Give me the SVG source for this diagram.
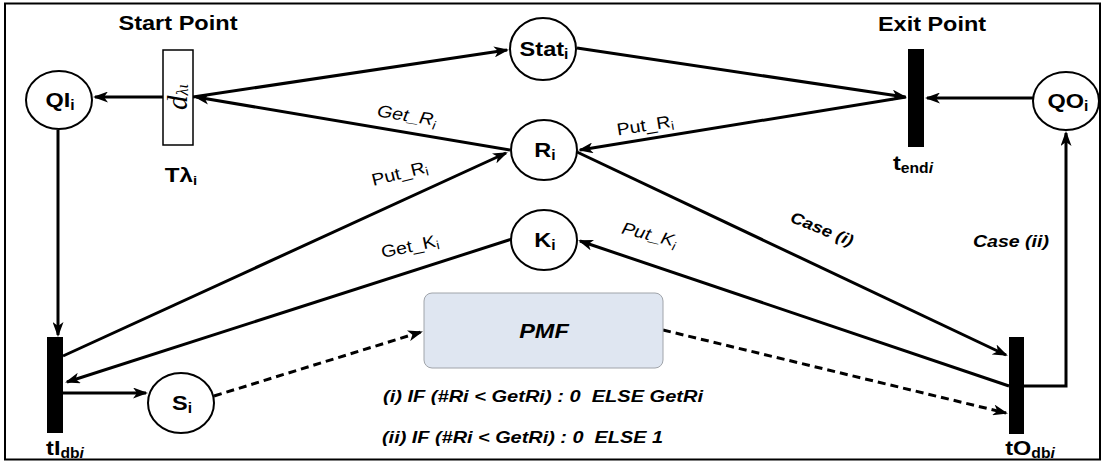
<svg xmlns="http://www.w3.org/2000/svg" width="1106" height="464" viewBox="0 0 1106 464">
<style>
.edge{fill:none;stroke:#000;stroke-width:3}
.dash{fill:none;stroke:#000;stroke-width:3;stroke-dasharray:8 5}
.place{fill:#fff;stroke:#000;stroke-width:2}
.bar{fill:#000}
.nl{font-family:"Liberation Sans",Arial,sans-serif;font-weight:bold;font-size:21px;text-anchor:middle;fill:#000}
.lab{font-family:"Liberation Sans",Arial,sans-serif;font-size:17px;text-anchor:middle;fill:#000}
.it{font-style:italic}
.bi{font-family:"Liberation Sans",Arial,sans-serif;font-weight:bold;font-style:italic;fill:#000}
.ttl{font-family:"Liberation Sans",Arial,sans-serif;font-weight:bold;font-size:20px;text-anchor:middle;fill:#000}
</style>
<defs>
<marker id="ah" markerWidth="15" markerHeight="11" refX="13" refY="5.5" orient="auto" markerUnits="userSpaceOnUse">
<path d="M0,0 L15,5.5 L0,11 L4,5.5 z" fill="#000"/>
</marker>
</defs>
<rect x="5" y="3.5" width="1095" height="456" fill="#fff" stroke="#000" stroke-width="2"/>

<g id="connectors">
<line class="edge" x1="163" y1="97" x2="95" y2="97" marker-end="url(#ah)"/>
<line class="edge" x1="510" y1="150" x2="196" y2="97" marker-end="url(#ah)"/>
<line class="edge" x1="193" y1="97" x2="507" y2="50" marker-end="url(#ah)"/>
<line class="edge" x1="577" y1="48" x2="905" y2="97" marker-end="url(#ah)"/>
<line class="edge" x1="906" y1="97" x2="580" y2="150" marker-end="url(#ah)"/>
<line class="edge" x1="1033" y1="98" x2="927" y2="98" marker-end="url(#ah)"/>
<line class="edge" x1="58" y1="130" x2="58" y2="335" marker-end="url(#ah)"/>
<line class="edge" x1="63" y1="356" x2="506" y2="153" marker-end="url(#ah)"/>
<line class="edge" x1="512" y1="239" x2="67" y2="382" marker-end="url(#ah)"/>
<line class="edge" x1="63" y1="393" x2="146" y2="393" marker-end="url(#ah)"/>
<line class="edge" x1="577" y1="152" x2="1006" y2="355" marker-end="url(#ah)"/>
<line class="edge" x1="1009" y1="386" x2="580" y2="241" marker-end="url(#ah)"/>
<polyline class="edge" points="1024,386 1066,386 1066,133" marker-end="url(#ah)"/>
<line class="dash" x1="214" y1="396" x2="421" y2="332" marker-end="url(#ah)"/>
<line class="dash" x1="663" y1="330" x2="1006" y2="413" marker-end="url(#ah)"/>

<text class="lab it" transform="translate(406,121) rotate(9) scale(1.15,1)">Get_R<tspan font-size="12" dy="4">i</tspan></text>
<text class="lab" transform="translate(646,131) rotate(-9) scale(1.15,1)">Put_R<tspan font-size="12" dy="3">i</tspan></text>
<text class="lab" transform="translate(401,179) rotate(-14) scale(1.15,1)">Put_R<tspan font-size="12" dy="3">i</tspan></text>
<text class="lab" transform="translate(411,252) rotate(-12) scale(1.15,1)">Get_K<tspan font-size="12" dy="3">i</tspan></text>
<text class="lab it" transform="translate(648,240) rotate(14) scale(1.15,1)">Put_K<tspan font-size="12" dy="4">i</tspan></text>
<text class="bi" font-size="16" text-anchor="middle" transform="translate(820,234) rotate(22) scale(1.15,1)">Case (i)</text>
<text class="bi" font-size="17" text-anchor="middle" transform="translate(1011,247) scale(1.15,1)">Case (ii)</text>
</g>

<g id="title-start"><text class="ttl" x="178" y="30" textLength="119" lengthAdjust="spacingAndGlyphs">Start Point</text></g>
<g id="title-exit"><text class="ttl" x="932" y="31" textLength="108" lengthAdjust="spacingAndGlyphs">Exit Point</text></g>

<g id="node-QI">
<ellipse class="place" cx="59" cy="100" rx="33" ry="29"/>
<text class="nl" font-size="20" transform="translate(60,107) scale(1.12,1)">QI<tspan font-size="14" dy="3">i</tspan></text>
</g>
<g id="node-Stat">
<ellipse class="place" cx="543" cy="49" rx="33" ry="31"/>
<text class="nl" transform="translate(544,56) scale(1.12,1)">Stat<tspan font-size="14" dy="3">i</tspan></text>
</g>
<g id="node-R">
<ellipse class="place" cx="544" cy="150" rx="33" ry="30"/>
<text class="nl" transform="translate(545,157) scale(1.12,1)">R<tspan font-size="14" dy="3">i</tspan></text>
</g>
<g id="node-K">
<ellipse class="place" cx="544" cy="240" rx="33" ry="30"/>
<text class="nl" transform="translate(545,247) scale(1.12,1)">K<tspan font-size="14" dy="3">i</tspan></text>
</g>
<g id="node-S">
<ellipse class="place" cx="181" cy="403" rx="33" ry="30"/>
<text class="nl" transform="translate(182,410) scale(1.12,1)">S<tspan font-size="14" dy="3">i</tspan></text>
</g>
<g id="node-QO">
<ellipse class="place" cx="1066" cy="101" rx="33" ry="29"/>
<text class="nl" font-size="20" transform="translate(1068,108) scale(1.12,1)">QO<tspan font-size="14" dy="3">i</tspan></text>
</g>

<g id="node-Tlambda">
<rect x="163" y="50" width="30" height="95" fill="#fff" stroke="#000" stroke-width="1.5"/>
<text font-family="'Liberation Serif',serif" font-style="italic" font-size="29" text-anchor="middle" transform="translate(187,97) rotate(-90)">d<tspan font-size="16" dy="1">λι</tspan></text>
<text class="nl" font-size="19" transform="translate(181,182) scale(1.15,1)">Tλ<tspan font-size="13" dy="3">i</tspan></text>
</g>

<g id="node-tend">
<rect class="bar" x="908" y="49" width="16" height="98"/>
<text class="nl" font-size="20" transform="translate(913,170) scale(1.12,1)">t<tspan font-size="14" dy="3">end</tspan><tspan font-size="14" font-style="italic">i</tspan></text>
</g>

<g id="node-tIdb">
<rect class="bar" x="47" y="337" width="16" height="96"/>
<text class="nl" font-size="21" transform="translate(65,455) scale(1.12,1)">tI<tspan font-size="14" dy="3">db</tspan><tspan font-size="14" font-style="italic">i</tspan></text>
</g>

<g id="node-tOdb">
<rect class="bar" x="1009" y="337" width="15" height="97"/>
<text class="nl" font-size="21" transform="translate(1030,455) scale(1.12,1)">tO<tspan font-size="14" dy="3">db</tspan><tspan font-size="14" font-style="italic">i</tspan></text>
</g>

<g id="node-PMF">
<rect x="424" y="293" width="239" height="75" rx="8" fill="#dfe6f1" stroke="#a0a4aa" stroke-width="1"/>
<text class="bi" font-size="21" text-anchor="middle" transform="translate(544,338) scale(1.12,1)">PMF</text>
</g>

<g id="formulas">
<text class="bi" font-size="16" x="383" y="402" xml:space="preserve" textLength="320" lengthAdjust="spacingAndGlyphs">(i) IF (#Ri &lt; GetRi) : 0  ELSE GetRi</text>
<text class="bi" font-size="16" x="382" y="443" xml:space="preserve" textLength="281" lengthAdjust="spacingAndGlyphs">(ii) IF (#Ri &lt; GetRi) : 0  ELSE 1</text>
</g>
</svg>
